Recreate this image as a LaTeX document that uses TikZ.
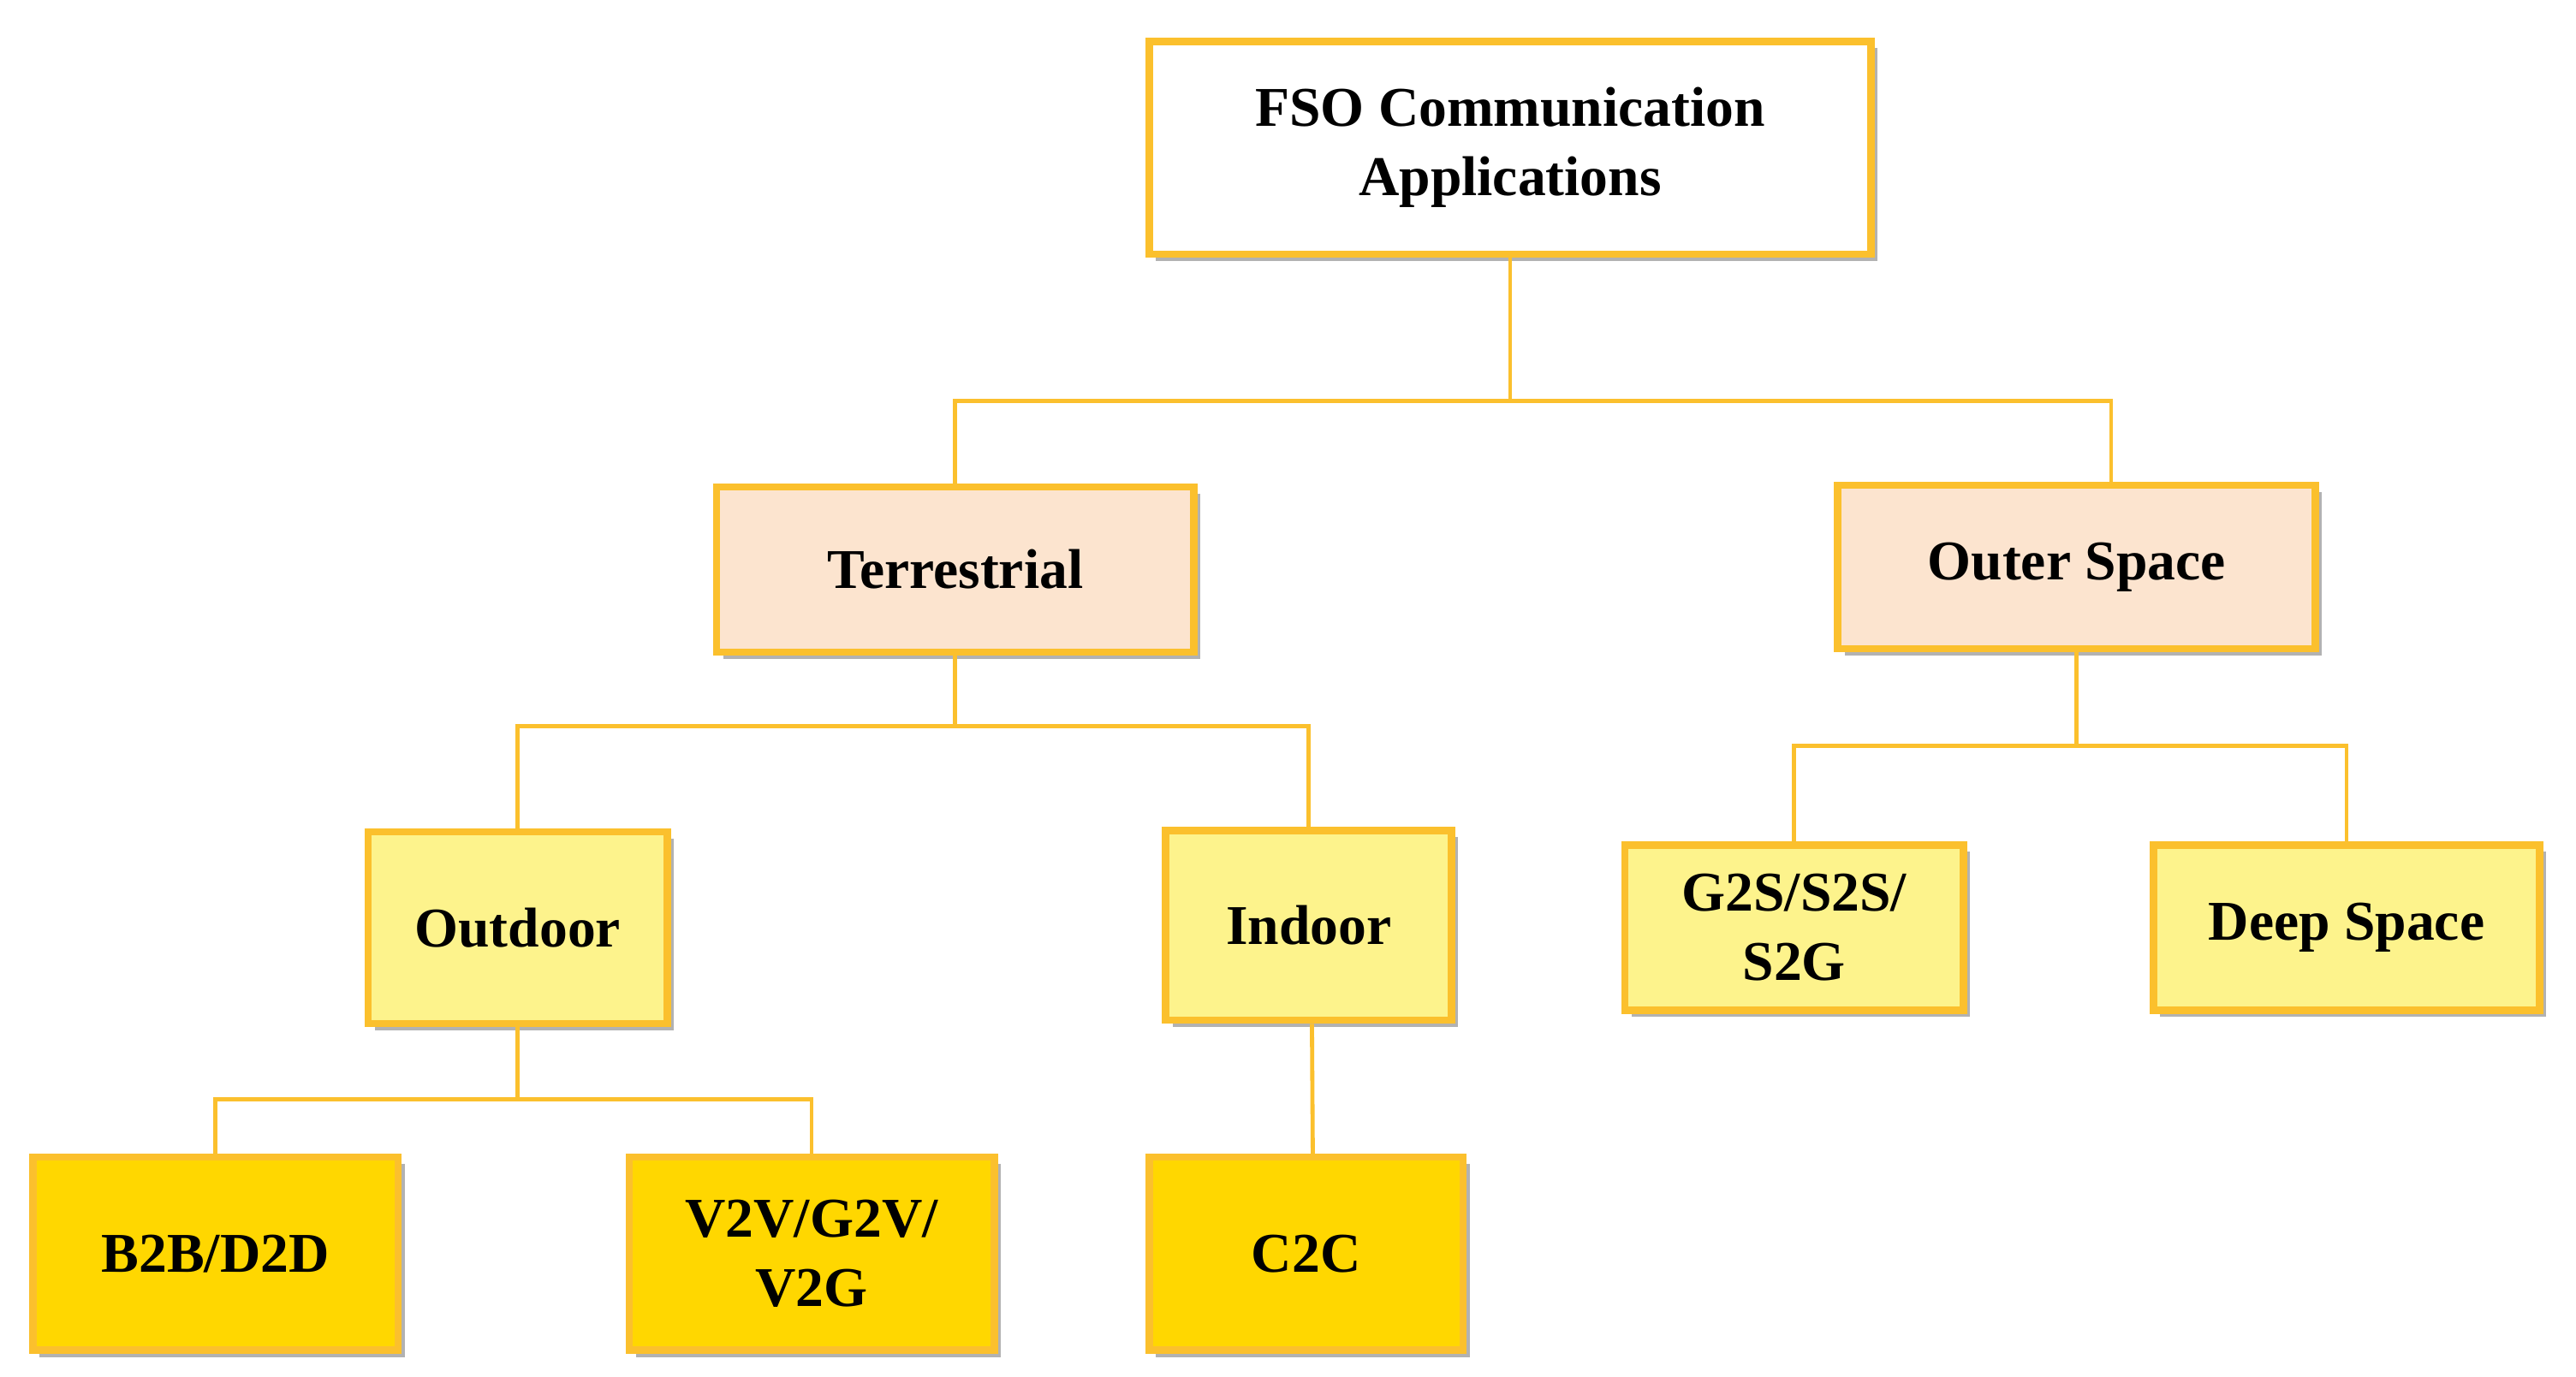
\documentclass[tikz,border=0pt]{standalone}
\usepackage{fontspec}
\setmainfont{Liberation Serif}
\usetikzlibrary{shadows}
\definecolor{gold}{HTML}{FBC02D}
\definecolor{peach}{HTML}{FCE4CF}
\definecolor{lyel}{HTML}{FDF38C}
\definecolor{dyel}{HTML}{FFD700}
\begin{document}
\begin{tikzpicture}[x=1pt,y=-1pt,
 box/.style={draw=gold,line width=4.5pt,align=center,inner sep=0pt,
   font=\fontsize{34}{42}\selectfont\bfseries,
   drop shadow={shadow xshift=4pt,shadow yshift=-4pt,fill=black!30,opacity=1}},
 ln/.style={draw=gold,line width=2.5pt}]
\useasboundingbox (0,0) rectangle (1560,834);
\node[box,fill=white,minimum width=437,minimum height=129] (top) at (914.5,89.5) {FSO Communication\\Applications};
\node[box,fill=peach,minimum width=289,minimum height=100] (terr) at (578.5,345) {Terrestrial};
\node[box,fill=peach,minimum width=289,minimum height=99] (outer) at (1257.5,343.5) {Outer Space};
\node[box,fill=lyel,minimum width=181,minimum height=116] (outd) at (313.5,562) {Outdoor};
\node[box,fill=lyel,minimum width=173,minimum height=115] (ind) at (792.5,560.5) {Indoor};
\node[box,fill=lyel,minimum width=205,minimum height=100] (g2s) at (1086.5,562) {G2S/S2S/\\S2G};
\node[box,fill=lyel,minimum width=234,minimum height=100] (deep) at (1421,562) {Deep Space};
\node[box,fill=dyel,minimum width=221,minimum height=117] (b2b) at (130.5,759.5) {B2B/D2D};
\node[box,fill=dyel,minimum width=221,minimum height=117] (v2v) at (491.5,759.5) {V2V/G2V/\\V2G};
\node[box,fill=dyel,minimum width=190,minimum height=117] (c2c) at (791,759.5) {C2C};
\coordinate (j1) at (914.5,243);
\coordinate (j2) at (578.5,440);
\coordinate (j3) at (1257.5,452);
\coordinate (j4) at (313.5,666);
\begin{scope}[on background layer/.style={}]
\draw[ln] (top.south) -- (j1) -| (terr.north);
\draw[ln] (j1) -| ([xshift=21pt]outer.north);
\draw[ln] (terr.south) -- (j2) -| (outd.north);
\draw[ln] (j2) -| (ind.north);
\draw[ln] (outer.south) -- (j3) -| (g2s.north);
\draw[ln] (j3) -| (deep.north);
\draw[ln] (outd.south) -- (j4) -| (b2b.north);
\draw[ln] (j4) -| (v2v.north);
\draw[ln] ([xshift=2pt]ind.south) -- ([xshift=4pt]c2c.north);
\end{scope}
\end{tikzpicture}
\end{document}
